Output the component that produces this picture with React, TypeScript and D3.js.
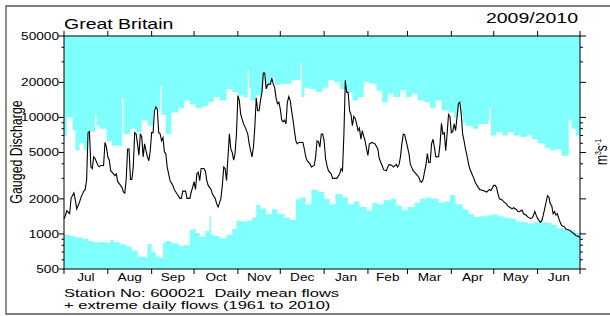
import * as d3 from "d3";

const W = 610;
const H = 316;
const PLOT = { left: 64, right: 580, top: 36, bottom: 269 };
const SX = 1.3; // the source picture is stretched horizontally

const START = new Date(2009, 6, 1);
const END = new Date(2010, 6, 1);

const monthLabels = ["Jul", "Aug", "Sep", "Oct", "Nov", "Dec", "Jan", "Feb", "Mar", "Apr", "May", "Jun"];
const yTicks = [500, 1000, 2000, 5000, 10000, 20000, 50000];
const yMinorTicks = [600, 700, 800, 900, 3000, 4000, 6000, 7000, 8000, 9000, 30000, 40000];

// [days since 1 Jul 2009, m3/s]
const meanFlow: [number, number][] = [
  [0, 1350], [1, 1440], [2, 1580], [4, 1490], [5, 2020], [7, 2250], [8, 1960], [9, 1640], [11, 1880], [12, 2060],
  [14, 2330], [15, 2410], [16, 2900], [17, 7400], [18, 7550], [19, 3770], [20, 3640], [21, 4590], [22, 4440], [24, 3870],
  [25, 3770], [26, 3870], [28, 3870], [29, 6100], [30, 5560], [31, 4590], [32, 4310], [33, 3490], [35, 3280], [36, 3170],
  [37, 3280], [38, 2810], [40, 2610], [41, 2510], [42, 2290], [43, 2240], [44, 2930], [45, 5360], [46, 5360], [47, 2930],
  [48, 2930], [49, 3750], [50, 7400], [51, 7250], [52, 5930], [53, 4730], [54, 7250], [55, 6800], [56, 4590], [57, 5930],
  [58, 5180], [59, 4590], [60, 4250], [61, 5180], [62, 7400], [63, 7400], [64, 11400], [65, 12300], [66, 11800], [67, 7400],
  [68, 7250], [69, 6300], [70, 6700], [71, 5060], [72, 4900], [73, 3750], [74, 3280], [75, 2870], [77, 2610], [78, 2410],
  [80, 2200], [82, 2020], [83, 2020], [84, 2330], [86, 2330], [87, 2020], [89, 2020], [90, 2290], [91, 2510], [92, 2810],
  [93, 2410], [94, 3280], [95, 3390], [96, 2870], [97, 3640], [99, 3640], [100, 3450], [101, 2870], [102, 2610], [104, 2410],
  [105, 2200], [107, 2020], [108, 1810], [109, 1700], [111, 2020], [112, 2610], [113, 3750], [114, 3640], [115, 2870], [116, 4590],
  [117, 7250], [118, 5360], [119, 5000], [120, 4300], [121, 4900], [122, 7250], [123, 15400], [124, 14000], [125, 10600], [127, 8800],
  [128, 8330], [130, 7200], [131, 5930], [132, 5180], [133, 4590], [134, 5560], [135, 8330], [136, 14700], [137, 11400], [138, 11400],
  [139, 14000], [140, 16400], [141, 24000], [142, 24000], [143, 17600], [144, 19000], [145, 19300], [146, 19300], [147, 21800], [148, 19300],
  [149, 18100], [150, 14700], [151, 13100], [152, 13500], [153, 11800], [154, 9500], [155, 9150], [156, 9500], [157, 8800], [158, 13500],
  [159, 15100], [160, 14000], [161, 11400], [162, 9500], [163, 7700], [164, 6300], [165, 5930], [166, 6100], [168, 6100], [169, 6100],
  [170, 5360], [171, 4590], [172, 4250], [174, 4000], [175, 3750], [177, 3870], [178, 4590], [179, 6300], [180, 6200], [181, 5560],
  [182, 7200], [183, 7200], [184, 6300], [185, 4440], [186, 3870], [187, 3490], [189, 3280], [190, 3000], [193, 3000], [195, 3280],
  [196, 3640], [197, 3490], [198, 7200], [199, 20800], [200, 16400], [201, 16400], [202, 11400], [203, 10600], [204, 8500], [205, 10200],
  [206, 9800], [207, 8800], [208, 7700], [209, 8100], [210, 6500], [211, 7700], [212, 6900], [213, 6300], [214, 5360], [215, 4730],
  [216, 5930], [218, 6100], [220, 5930], [222, 5360], [223, 4440], [225, 3870], [226, 3560], [228, 3490], [229, 3750], [230, 3950],
  [232, 3870], [233, 3750], [235, 3950], [236, 3750], [237, 3950], [238, 4590], [239, 5930], [240, 7200], [241, 7100], [242, 6300],
  [243, 5560], [244, 4900], [245, 3950], [247, 3490], [248, 3390], [249, 3280], [251, 3070], [252, 2830], [253, 2780], [254, 2930],
  [255, 3390], [256, 3870], [257, 4900], [258, 4100], [259, 4100], [260, 5930], [261, 6500], [262, 5560], [263, 4590], [265, 4600],
  [266, 5930], [267, 8900], [268, 7200], [269, 7400], [270, 5180], [271, 7200], [272, 10600], [273, 10200], [274, 7400], [275, 7550],
  [276, 8800], [277, 7700], [278, 10000], [279, 13100], [280, 13500], [281, 10600], [282, 7200], [283, 6300], [284, 5360], [285, 4730],
  [286, 4100], [287, 3640], [289, 3170], [290, 3000], [291, 2750], [293, 2510], [294, 2410], [297, 2350], [299, 2290], [301, 2410],
  [302, 2350], [304, 2610], [305, 2610], [306, 2500], [307, 2200], [308, 2000], [310, 1960], [311, 1890], [313, 1810], [314, 1730],
  [315, 1700], [317, 1640], [318, 1680], [320, 1620], [321, 1560], [322, 1550], [324, 1600], [325, 1490], [327, 1450], [328, 1400],
  [330, 1360], [331, 1370], [332, 1430], [333, 1560], [334, 1450], [335, 1360], [336, 1300], [337, 1260], [338, 1300], [339, 1450],
  [340, 1640], [341, 1870], [342, 2130], [343, 2060], [344, 1810], [345, 1750], [346, 1490], [347, 1560], [348, 1450], [349, 1490],
  [350, 1360], [351, 1260], [352, 1180], [354, 1150], [355, 1100], [357, 1080], [358, 1070], [359, 1040], [361, 1000], [362, 970],
  [364, 950], [365, 930],
];

// highest daily flows 1961-2010
const maxFlow: [number, number][] = [
  [0, 6900], [2, 10000], [6, 7800], [8, 5200], [11, 6000], [14, 5200], [17, 7600], [20, 7500], [22, 10500], [23, 8500],
  [25, 8000], [30, 6200], [34, 5700], [41, 14700], [42, 7200], [47, 8000], [51, 7500], [55, 9500], [59, 8500], [63, 11000],
  [64, 12300], [67, 11000], [68, 18600], [69, 10500], [72, 7200], [76, 11000], [81, 12000], [85, 14000], [89, 13000], [93, 12000],
  [98, 12500], [102, 13500], [106, 15000], [110, 14000], [115, 17500], [119, 16500], [123, 15400], [127, 15000], [130, 25500], [131, 18000],
  [132, 14000], [136, 15500], [140, 16500], [141, 24000], [143, 19000], [145, 20000], [147, 22000], [149, 19000], [153, 19500], [157, 19500],
  [161, 21000], [167, 29500], [168, 15000], [170, 18000], [174, 17500], [178, 16500], [183, 18000], [187, 21000], [191, 20000], [195, 17500],
  [199, 20800], [200, 16400], [204, 14000], [208, 15000], [212, 20000], [216, 19500], [221, 17000], [225, 13500], [229, 16000], [233, 15000],
  [238, 17000], [242, 15000], [246, 16000], [250, 14000], [255, 13500], [259, 12000], [263, 14000], [267, 11500], [272, 11000], [276, 10000],
  [278, 10500], [279, 13100], [280, 13500], [281, 10600], [282, 9000], [284, 8500], [289, 8000], [293, 8800], [300, 9500], [301, 12000],
  [302, 7000], [306, 7500], [310, 7000], [314, 7500], [318, 7000], [323, 6800], [327, 7000], [331, 6500], [335, 6000], [340, 5500],
  [344, 5200], [348, 5300], [352, 4700], [357, 9500], [359, 8000], [362, 7000],
];

// lowest daily flows 1961-2010
const minFlow: [number, number][] = [
  [0, 990], [4, 960], [8, 930], [13, 910], [17, 870], [21, 850], [30, 840], [33, 890], [35, 850], [40, 810],
  [44, 785], [48, 720], [52, 640], [57, 625], [59, 820], [62, 700], [65, 640], [68, 620], [70, 840], [72, 870],
  [76, 830], [81, 790], [85, 800], [89, 1080], [91, 1100], [93, 1020], [96, 950], [100, 1060], [103, 1420], [104, 990],
  [106, 960], [110, 920], [115, 980], [119, 1100], [122, 1300], [125, 1280], [129, 1300], [133, 1380], [136, 1770], [139, 1650],
  [143, 1480], [147, 1630], [151, 1480], [156, 1380], [160, 1320], [164, 1980], [167, 2050], [171, 1800], [175, 2400], [180, 2300],
  [184, 2000], [188, 1800], [192, 2200], [197, 2050], [201, 1800], [205, 1900], [209, 1700], [214, 1600], [218, 1850], [222, 1800],
  [226, 1950], [231, 2000], [235, 1750], [239, 1600], [243, 1700], [248, 1850], [252, 2000], [256, 2050], [260, 2000], [265, 1850],
  [269, 1900], [273, 2150], [277, 1800], [282, 1620], [286, 1480], [290, 1400], [294, 1420], [299, 1450], [303, 1470], [307, 1420],
  [311, 1380], [316, 1350], [320, 1280], [324, 1260], [328, 1230], [332, 1260], [337, 1260], [341, 1250], [345, 1200], [349, 1120],
  [354, 1080], [358, 1060], [362, 1020],
];

const CYAN = "#80ffff";
const FONT = "'Liberation Sans', Arial, Helvetica, sans-serif";

const dayDate = (d: number) => d3.timeDay.offset(START, d);

function SText({ x, y, size, anchor = "start", sx = SX, children }: any) {
  return (
    <text
      transform={`translate(${x},${y}) scale(${sx},1)`}
      fontSize={size}
      textAnchor={anchor}
      fill="#000"
    >
      {children}
    </text>
  );
}

export default function App() {
  const x = d3.scaleTime().domain([START, END]).range([PLOT.left, PLOT.right]);
  const y = d3.scaleLog().domain([500, 50000]).range([PLOT.bottom, PLOT.top]);

  const closeSteps = (arr: [number, number][]) => [...arr, [365, arr[arr.length - 1][1]] as [number, number]];

  const topArea = d3
    .area<[number, number]>()
    .x((d) => x(dayDate(d[0])))
    .y0(y(50000))
    .y1((d) => y(d[1]))
    .curve(d3.curveStepAfter);

  const bottomArea = d3
    .area<[number, number]>()
    .x((d) => x(dayDate(d[0])))
    .y0(y(500))
    .y1((d) => y(d[1]))
    .curve(d3.curveStepAfter);

  const line = d3
    .line<[number, number]>()
    .x((d) => x(dayDate(d[0])))
    .y((d) => y(d[1]));

  const months = d3.timeMonth.range(START, d3.timeDay.offset(END, 1));

  return (
    <svg
      width={W}
      height={H}
      style={{ position: "absolute", left: 0, top: 0, background: "#fff" }}
      fontFamily={FONT}
    >
      <rect width={W} height={H} fill="#fff" />
      {/* outer frame, cut off on the right */}
      <path d={`M${W},6 H6 V314 H${W}`} fill="none" stroke="#555" strokeWidth={1.3} />

      <path d={topArea(closeSteps(maxFlow)) || ""} fill={CYAN} />
      <path d={bottomArea(closeSteps(minFlow)) || ""} fill={CYAN} />
      <path d={line(meanFlow) || ""} fill="none" stroke="#000" strokeWidth={1.1} />

      <rect
        x={PLOT.left}
        y={PLOT.top}
        width={PLOT.right - PLOT.left}
        height={PLOT.bottom - PLOT.top}
        fill="none"
        stroke="#000"
        strokeWidth={1}
      />

      {/* month ticks top and bottom */}
      {months.map((m, i) => (
        <g key={i}>
          <line x1={x(m)} x2={x(m)} y1={PLOT.top} y2={PLOT.top - 5} stroke="#000" />
          <line x1={x(m)} x2={x(m)} y1={PLOT.bottom} y2={PLOT.bottom + 5} stroke="#000" />
        </g>
      ))}
      {monthLabels.map((lab, i) => {
        const cx = (x(months[i]) + x(months[i + 1])) / 2;
        return (
          <SText key={lab} x={cx} y={281} size={10.5} anchor="middle">
            {lab}
          </SText>
        );
      })}

      {/* y ticks both sides */}
      {yTicks.map((t) => (
        <g key={t}>
          <line x1={PLOT.left - 5} x2={PLOT.left} y1={y(t)} y2={y(t)} stroke="#000" />
          <line x1={PLOT.right} x2={PLOT.right + 6} y1={y(t)} y2={y(t)} stroke="#000" />
          <SText x={PLOT.left - 5} y={y(t) + 3.8} size={10.5} anchor="end">
            {t}
          </SText>
        </g>
      ))}
      {yMinorTicks.map((t) => (
        <g key={t}>
          <line x1={PLOT.left - 2.5} x2={PLOT.left} y1={y(t)} y2={y(t)} stroke="#000" />
          <line x1={PLOT.right} x2={PLOT.right + 3} y1={y(t)} y2={y(t)} stroke="#000" />
        </g>
      ))}

      {/* titles */}
      <SText x={64} y={29} size={15}>Great Britain</SText>
      <SText x={578} y={23} size={15} anchor="end">2009/2010</SText>

      <text
        transform={`translate(22,152) scale(${SX},1) rotate(-90)`}
        fontSize={12.4}
        textAnchor="middle"
        fill="#000"
      >
        Gauged Discharge
      </text>
      <text
        transform={`translate(607,152) scale(${SX},1) rotate(-90)`}
        fontSize={12}
        textAnchor="middle"
        fill="#000"
      >
        m<tspan fontSize={7} dy={-5}>3</tspan>
        <tspan dy={5}>s</tspan>
        <tspan fontSize={7} dy={-5}>-1</tspan>
      </text>

      <SText x={64} y={297} size={11} sx={1.5}>Station No: 600021{"\u00a0\u00a0"}Daily mean flows</SText>
      <SText x={64} y={309} size={11} sx={1.5}>+ extreme daily flows (1961 to 2010)</SText>
    </svg>
  );
}
